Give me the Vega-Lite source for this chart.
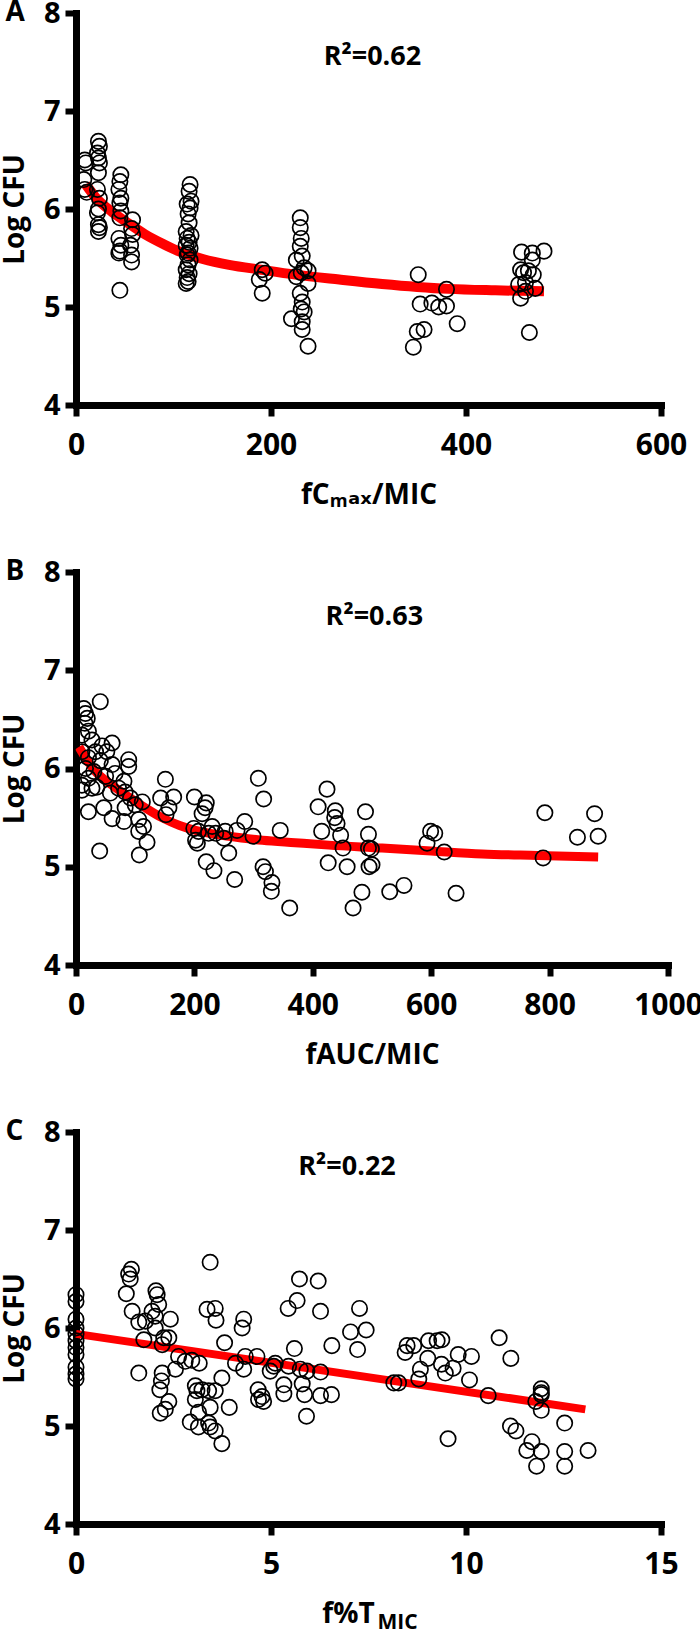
{
  "$schema": "https://vega.github.io/schema/vega-lite/v6.json",
  "background": "white",
  "padding": {"left": 1, "top": -1, "right": 0, "bottom": 0},
  "spacing": 49,
  "config": {
    "view": {"stroke": null},
    "font": "Open Sans",
    "axis": {
      "grid": false,
      "domainColor": "black", "domainWidth": 7, "domainCap": "square",
      "tickColor": "black", "tickWidth": 6, "tickSize": 11,
      "labelFont": "Open Sans", "labelFontSize": 30, "labelFontWeight": "bold", "labelColor": "black",
      "labelFlush": false, "labelOverlap": false, "format": "d",
      "titleFont": "Open Sans, DejaVu Sans", "titleFontSize": 28, "titleFontWeight": "bold", "titleColor": "black"
    },
    "axisX": {"labelPadding": 14, "titleBaseline": "alphabetic", "titleY": 98},
    "axisY": {"labelPadding": 5, "titlePadding": 14, "labelFontSize": 29},
    "title": {"font": "Open Sans", "fontSize": 28, "fontWeight": "bold", "color": "black", "anchor": "start", "frame": "bounds", "offset": -28, "dx": 4}
  },
  "datasets": {
    "a_curve": [
      {"x": 10, "log_cfu": 6.25}, {"x": 20, "log_cfu": 6.12}, {"x": 37, "log_cfu": 5.97}, {"x": 50, "log_cfu": 5.88},
      {"x": 71, "log_cfu": 5.74}, {"x": 90, "log_cfu": 5.64}, {"x": 105, "log_cfu": 5.57}, {"x": 130, "log_cfu": 5.49},
      {"x": 157, "log_cfu": 5.43}, {"x": 190, "log_cfu": 5.38}, {"x": 225, "log_cfu": 5.33}, {"x": 270, "log_cfu": 5.28},
      {"x": 314, "log_cfu": 5.235}, {"x": 350, "log_cfu": 5.205}, {"x": 382, "log_cfu": 5.185}, {"x": 430, "log_cfu": 5.17},
      {"x": 480, "log_cfu": 5.16}
    ],
    "a_pts": [
      {"x": 9, "log_cfu": 6.50}, {"x": 10, "log_cfu": 6.47}, {"x": 8, "log_cfu": 6.30}, {"x": 9, "log_cfu": 6.20}, {"x": 11, "log_cfu": 6.17},
      {"x": 23, "log_cfu": 6.69}, {"x": 24, "log_cfu": 6.64}, {"x": 22, "log_cfu": 6.57}, {"x": 23, "log_cfu": 6.52}, {"x": 24, "log_cfu": 6.47},
      {"x": 23, "log_cfu": 6.37}, {"x": 22, "log_cfu": 6.20}, {"x": 24, "log_cfu": 6.11}, {"x": 23, "log_cfu": 6.00}, {"x": 22, "log_cfu": 5.96},
      {"x": 23, "log_cfu": 5.84}, {"x": 24, "log_cfu": 5.81}, {"x": 23, "log_cfu": 5.77},
      {"x": 46, "log_cfu": 6.35}, {"x": 45, "log_cfu": 6.28}, {"x": 44, "log_cfu": 6.20}, {"x": 46, "log_cfu": 6.11}, {"x": 45, "log_cfu": 6.06},
      {"x": 46, "log_cfu": 5.98}, {"x": 45, "log_cfu": 5.91}, {"x": 44, "log_cfu": 5.70}, {"x": 46, "log_cfu": 5.63}, {"x": 45, "log_cfu": 5.57},
      {"x": 44, "log_cfu": 5.55}, {"x": 45, "log_cfu": 5.17},
      {"x": 58, "log_cfu": 5.89}, {"x": 57, "log_cfu": 5.80}, {"x": 58, "log_cfu": 5.74}, {"x": 56, "log_cfu": 5.63}, {"x": 57, "log_cfu": 5.53}, {"x": 57, "log_cfu": 5.46},
      {"x": 117, "log_cfu": 6.25}, {"x": 116, "log_cfu": 6.18}, {"x": 118, "log_cfu": 6.08}, {"x": 114, "log_cfu": 6.05}, {"x": 117, "log_cfu": 6.01},
      {"x": 115, "log_cfu": 5.95}, {"x": 116, "log_cfu": 5.86}, {"x": 113, "log_cfu": 5.77}, {"x": 118, "log_cfu": 5.73}, {"x": 114, "log_cfu": 5.70},
      {"x": 116, "log_cfu": 5.66}, {"x": 113, "log_cfu": 5.63}, {"x": 117, "log_cfu": 5.60}, {"x": 115, "log_cfu": 5.55}, {"x": 114, "log_cfu": 5.53},
      {"x": 117, "log_cfu": 5.48}, {"x": 115, "log_cfu": 5.43}, {"x": 113, "log_cfu": 5.38}, {"x": 116, "log_cfu": 5.34}, {"x": 114, "log_cfu": 5.30},
      {"x": 115, "log_cfu": 5.26}, {"x": 113, "log_cfu": 5.24},
      {"x": 191, "log_cfu": 5.38}, {"x": 194, "log_cfu": 5.345}, {"x": 188, "log_cfu": 5.28}, {"x": 191, "log_cfu": 5.14},
      {"x": 230, "log_cfu": 5.91}, {"x": 230, "log_cfu": 5.81}, {"x": 231, "log_cfu": 5.70}, {"x": 230, "log_cfu": 5.62}, {"x": 226, "log_cfu": 5.48},
      {"x": 232, "log_cfu": 5.52}, {"x": 234, "log_cfu": 5.40}, {"x": 238, "log_cfu": 5.37}, {"x": 231, "log_cfu": 5.35}, {"x": 226, "log_cfu": 5.31},
      {"x": 238, "log_cfu": 5.24}, {"x": 230, "log_cfu": 5.14}, {"x": 232, "log_cfu": 5.05}, {"x": 234, "log_cfu": 4.95}, {"x": 231, "log_cfu": 4.98},
      {"x": 221, "log_cfu": 4.88}, {"x": 232, "log_cfu": 4.85}, {"x": 232, "log_cfu": 4.77}, {"x": 238, "log_cfu": 4.60},
      {"x": 351, "log_cfu": 5.33}, {"x": 380, "log_cfu": 5.18}, {"x": 353, "log_cfu": 5.03}, {"x": 365, "log_cfu": 5.04}, {"x": 372, "log_cfu": 5.00},
      {"x": 380, "log_cfu": 5.01}, {"x": 391, "log_cfu": 4.83}, {"x": 350, "log_cfu": 4.75}, {"x": 357, "log_cfu": 4.77}, {"x": 346, "log_cfu": 4.59},
      {"x": 457, "log_cfu": 5.56}, {"x": 468, "log_cfu": 5.55}, {"x": 480, "log_cfu": 5.57}, {"x": 468, "log_cfu": 5.48}, {"x": 456, "log_cfu": 5.38},
      {"x": 459, "log_cfu": 5.35}, {"x": 464, "log_cfu": 5.37}, {"x": 469, "log_cfu": 5.33}, {"x": 454, "log_cfu": 5.23}, {"x": 461, "log_cfu": 5.25},
      {"x": 471, "log_cfu": 5.19}, {"x": 461, "log_cfu": 5.16}, {"x": 456, "log_cfu": 5.09}, {"x": 465, "log_cfu": 4.74}
    ],
    "b_curve": [
      {"x": 5, "log_cfu": 6.22}, {"x": 15, "log_cfu": 6.12}, {"x": 33, "log_cfu": 5.97}, {"x": 61, "log_cfu": 5.83},
      {"x": 89, "log_cfu": 5.71}, {"x": 117, "log_cfu": 5.60}, {"x": 145, "log_cfu": 5.50}, {"x": 175, "log_cfu": 5.42},
      {"x": 202, "log_cfu": 5.37}, {"x": 258, "log_cfu": 5.31}, {"x": 315, "log_cfu": 5.27}, {"x": 370, "log_cfu": 5.245},
      {"x": 427, "log_cfu": 5.22}, {"x": 517, "log_cfu": 5.19}, {"x": 600, "log_cfu": 5.16}, {"x": 686, "log_cfu": 5.13},
      {"x": 780, "log_cfu": 5.115}, {"x": 882, "log_cfu": 5.10}
    ],
    "b_pts": [
      {"x": 41, "log_cfu": 6.68}, {"x": 13, "log_cfu": 6.61}, {"x": 16, "log_cfu": 6.56}, {"x": 19, "log_cfu": 6.51}, {"x": 15, "log_cfu": 6.46},
      {"x": 21, "log_cfu": 6.38}, {"x": 10, "log_cfu": 6.34}, {"x": 27, "log_cfu": 6.29}, {"x": 61, "log_cfu": 6.26}, {"x": 44, "log_cfu": 6.23},
      {"x": 33, "log_cfu": 6.17}, {"x": 10, "log_cfu": 6.17}, {"x": 52, "log_cfu": 6.17}, {"x": 21, "log_cfu": 6.11}, {"x": 89, "log_cfu": 6.09},
      {"x": 41, "log_cfu": 6.08}, {"x": 61, "log_cfu": 6.04}, {"x": 89, "log_cfu": 6.02}, {"x": 16, "log_cfu": 6.00}, {"x": 30, "log_cfu": 5.97},
      {"x": 66, "log_cfu": 5.95}, {"x": 50, "log_cfu": 5.92}, {"x": 21, "log_cfu": 5.90}, {"x": 81, "log_cfu": 5.87}, {"x": 10, "log_cfu": 5.83},
      {"x": 35, "log_cfu": 5.81}, {"x": 58, "log_cfu": 5.75}, {"x": 72, "log_cfu": 5.80}, {"x": 83, "log_cfu": 5.76}, {"x": 92, "log_cfu": 5.70},
      {"x": 10, "log_cfu": 5.78}, {"x": 27, "log_cfu": 5.80}, {"x": 112, "log_cfu": 5.66}, {"x": 100, "log_cfu": 5.63}, {"x": 83, "log_cfu": 5.60},
      {"x": 21, "log_cfu": 5.56}, {"x": 47, "log_cfu": 5.60}, {"x": 61, "log_cfu": 5.49}, {"x": 81, "log_cfu": 5.46}, {"x": 106, "log_cfu": 5.48},
      {"x": 114, "log_cfu": 5.41}, {"x": 106, "log_cfu": 5.36}, {"x": 120, "log_cfu": 5.25}, {"x": 107, "log_cfu": 5.12}, {"x": 40, "log_cfu": 5.16},
      {"x": 151, "log_cfu": 5.89}, {"x": 143, "log_cfu": 5.70}, {"x": 165, "log_cfu": 5.71}, {"x": 157, "log_cfu": 5.60}, {"x": 152, "log_cfu": 5.53},
      {"x": 200, "log_cfu": 5.71}, {"x": 220, "log_cfu": 5.65}, {"x": 218, "log_cfu": 5.60}, {"x": 213, "log_cfu": 5.54}, {"x": 199, "log_cfu": 5.39},
      {"x": 207, "log_cfu": 5.36}, {"x": 202, "log_cfu": 5.27}, {"x": 205, "log_cfu": 5.24}, {"x": 230, "log_cfu": 5.41}, {"x": 224, "log_cfu": 5.34},
      {"x": 236, "log_cfu": 5.34}, {"x": 252, "log_cfu": 5.36}, {"x": 250, "log_cfu": 5.29}, {"x": 272, "log_cfu": 5.37}, {"x": 285, "log_cfu": 5.46},
      {"x": 299, "log_cfu": 5.31}, {"x": 258, "log_cfu": 5.14}, {"x": 220, "log_cfu": 5.05}, {"x": 233, "log_cfu": 4.96}, {"x": 268, "log_cfu": 4.87},
      {"x": 308, "log_cfu": 5.90}, {"x": 317, "log_cfu": 5.69}, {"x": 345, "log_cfu": 5.37}, {"x": 316, "log_cfu": 5.00}, {"x": 320, "log_cfu": 4.95},
      {"x": 331, "log_cfu": 4.84}, {"x": 330, "log_cfu": 4.75}, {"x": 361, "log_cfu": 4.58},
      {"x": 424, "log_cfu": 5.79}, {"x": 409, "log_cfu": 5.61}, {"x": 438, "log_cfu": 5.57}, {"x": 437, "log_cfu": 5.50}, {"x": 441, "log_cfu": 5.44},
      {"x": 415, "log_cfu": 5.36}, {"x": 447, "log_cfu": 5.32}, {"x": 451, "log_cfu": 5.19}, {"x": 426, "log_cfu": 5.04}, {"x": 458, "log_cfu": 5.00},
      {"x": 489, "log_cfu": 5.56}, {"x": 494, "log_cfu": 5.33}, {"x": 494, "log_cfu": 5.19}, {"x": 499, "log_cfu": 5.18}, {"x": 495, "log_cfu": 5.00},
      {"x": 500, "log_cfu": 5.02}, {"x": 483, "log_cfu": 4.74}, {"x": 468, "log_cfu": 4.58},
      {"x": 530, "log_cfu": 4.745}, {"x": 554, "log_cfu": 4.81}, {"x": 642, "log_cfu": 4.73}, {"x": 593, "log_cfu": 5.24}, {"x": 599, "log_cfu": 5.36},
      {"x": 606, "log_cfu": 5.34}, {"x": 622, "log_cfu": 5.15}, {"x": 792, "log_cfu": 5.55}, {"x": 789, "log_cfu": 5.09}, {"x": 847, "log_cfu": 5.30},
      {"x": 876, "log_cfu": 5.54}, {"x": 882, "log_cfu": 5.31}
    ],
    "c_line": [
      {"x": 0, "log_cfu": 5.94}, {"x": 13.06, "log_cfu": 5.17}
    ],
    "c_pts": [
      {"x": 0, "log_cfu": 6.34}, {"x": 0, "log_cfu": 6.27}, {"x": 0, "log_cfu": 6.09}, {"x": 0, "log_cfu": 6.00}, {"x": 0, "log_cfu": 5.94},
      {"x": 0, "log_cfu": 5.87}, {"x": 0, "log_cfu": 5.80}, {"x": 0, "log_cfu": 5.73}, {"x": 0, "log_cfu": 5.60}, {"x": 0, "log_cfu": 5.53},
      {"x": 0, "log_cfu": 5.48},
      {"x": 1.42, "log_cfu": 6.60}, {"x": 1.35, "log_cfu": 6.55}, {"x": 1.39, "log_cfu": 6.50}, {"x": 1.29, "log_cfu": 6.35}, {"x": 1.44, "log_cfu": 6.17},
      {"x": 1.61, "log_cfu": 6.06}, {"x": 1.78, "log_cfu": 6.07}, {"x": 1.74, "log_cfu": 5.88}, {"x": 1.61, "log_cfu": 5.54},
      {"x": 2.05, "log_cfu": 6.38}, {"x": 2.08, "log_cfu": 6.34}, {"x": 2.12, "log_cfu": 6.24}, {"x": 1.95, "log_cfu": 6.17}, {"x": 2.03, "log_cfu": 6.12},
      {"x": 2.03, "log_cfu": 6.00}, {"x": 2.42, "log_cfu": 6.09}, {"x": 2.25, "log_cfu": 5.90}, {"x": 2.21, "log_cfu": 5.83}, {"x": 2.38, "log_cfu": 5.90},
      {"x": 2.63, "log_cfu": 5.71}, {"x": 2.80, "log_cfu": 5.66}, {"x": 2.97, "log_cfu": 5.67}, {"x": 3.16, "log_cfu": 5.64}, {"x": 2.55, "log_cfu": 5.58},
      {"x": 2.21, "log_cfu": 5.54}, {"x": 2.19, "log_cfu": 5.46}, {"x": 2.15, "log_cfu": 5.37}, {"x": 2.38, "log_cfu": 5.25}, {"x": 2.29, "log_cfu": 5.17},
      {"x": 2.16, "log_cfu": 5.13},
      {"x": 3.44, "log_cfu": 6.67}, {"x": 3.36, "log_cfu": 6.19}, {"x": 3.57, "log_cfu": 6.20}, {"x": 3.59, "log_cfu": 6.08}, {"x": 3.81, "log_cfu": 5.85},
      {"x": 3.74, "log_cfu": 5.49}, {"x": 3.06, "log_cfu": 5.41}, {"x": 3.10, "log_cfu": 5.36}, {"x": 3.23, "log_cfu": 5.37}, {"x": 3.40, "log_cfu": 5.36},
      {"x": 3.57, "log_cfu": 5.36}, {"x": 3.06, "log_cfu": 5.27}, {"x": 3.44, "log_cfu": 5.19}, {"x": 3.93, "log_cfu": 5.19}, {"x": 3.14, "log_cfu": 5.14},
      {"x": 2.93, "log_cfu": 5.04}, {"x": 3.14, "log_cfu": 4.99}, {"x": 3.40, "log_cfu": 5.03}, {"x": 3.44, "log_cfu": 4.99}, {"x": 3.57, "log_cfu": 4.95},
      {"x": 3.74, "log_cfu": 4.82},
      {"x": 4.09, "log_cfu": 5.64}, {"x": 4.30, "log_cfu": 5.58}, {"x": 4.30, "log_cfu": 6.09}, {"x": 4.26, "log_cfu": 6.00}, {"x": 4.34, "log_cfu": 5.71},
      {"x": 4.64, "log_cfu": 5.71}, {"x": 4.67, "log_cfu": 5.37}, {"x": 4.68, "log_cfu": 5.27}, {"x": 4.81, "log_cfu": 5.25}, {"x": 4.77, "log_cfu": 5.30},
      {"x": 4.98, "log_cfu": 5.56}, {"x": 5.11, "log_cfu": 5.64}, {"x": 5.07, "log_cfu": 5.61}, {"x": 5.33, "log_cfu": 5.42}, {"x": 5.33, "log_cfu": 5.33},
      {"x": 5.45, "log_cfu": 5.61}, {"x": 5.60, "log_cfu": 5.79}, {"x": 5.44, "log_cfu": 6.20}, {"x": 5.67, "log_cfu": 6.28}, {"x": 5.73, "log_cfu": 6.50},
      {"x": 6.21, "log_cfu": 6.48}, {"x": 6.27, "log_cfu": 6.17}, {"x": 5.75, "log_cfu": 5.58}, {"x": 5.92, "log_cfu": 5.56}, {"x": 5.80, "log_cfu": 5.43},
      {"x": 5.86, "log_cfu": 5.32}, {"x": 5.91, "log_cfu": 5.10}, {"x": 6.27, "log_cfu": 5.55}, {"x": 6.27, "log_cfu": 5.31}, {"x": 6.55, "log_cfu": 5.32},
      {"x": 6.56, "log_cfu": 5.82}, {"x": 7.04, "log_cfu": 5.96}, {"x": 7.22, "log_cfu": 5.78}, {"x": 7.27, "log_cfu": 6.20}, {"x": 7.44, "log_cfu": 5.98},
      {"x": 8.15, "log_cfu": 5.44}, {"x": 8.27, "log_cfu": 5.44}, {"x": 8.79, "log_cfu": 5.48}, {"x": 8.83, "log_cfu": 5.58}, {"x": 8.44, "log_cfu": 5.75},
      {"x": 8.49, "log_cfu": 5.82}, {"x": 8.66, "log_cfu": 5.82}, {"x": 9.04, "log_cfu": 5.87}, {"x": 9.26, "log_cfu": 5.87}, {"x": 9.38, "log_cfu": 5.88},
      {"x": 9.02, "log_cfu": 5.69}, {"x": 9.37, "log_cfu": 5.63}, {"x": 9.47, "log_cfu": 5.54}, {"x": 9.67, "log_cfu": 5.59}, {"x": 9.80, "log_cfu": 5.73},
      {"x": 10.14, "log_cfu": 5.71}, {"x": 10.09, "log_cfu": 5.47}, {"x": 10.57, "log_cfu": 5.31}, {"x": 10.85, "log_cfu": 5.90}, {"x": 11.15, "log_cfu": 5.69},
      {"x": 9.54, "log_cfu": 4.87}, {"x": 11.14, "log_cfu": 5.00}, {"x": 11.28, "log_cfu": 4.95}, {"x": 11.69, "log_cfu": 4.84}, {"x": 11.56, "log_cfu": 4.75},
      {"x": 11.93, "log_cfu": 4.74}, {"x": 11.81, "log_cfu": 4.59}, {"x": 11.93, "log_cfu": 5.38}, {"x": 11.93, "log_cfu": 5.34}, {"x": 11.93, "log_cfu": 5.32},
      {"x": 11.79, "log_cfu": 5.25}, {"x": 11.93, "log_cfu": 5.16}, {"x": 12.53, "log_cfu": 5.03}, {"x": 12.53, "log_cfu": 4.74}, {"x": 12.53, "log_cfu": 4.59},
      {"x": 13.13, "log_cfu": 4.75}
    ]
  },
  "vconcat": [
    {
      "width": 585, "height": 392,
      "title": {"text": "A"},
      "layer": [
        {
          "data": {"name": "a_curve"},
          "mark": {"type": "line", "color": "#ff0000", "strokeWidth": 10, "interpolate": "monotone"},
          "encoding": {
            "x": {"field": "x", "type": "quantitative", "scale": {"domain": [0, 600], "nice": false}, "axis": {"title": "fCₘₐₓ/MIC", "values": [0, 200, 400, 600]}},
            "y": {"field": "log_cfu", "type": "quantitative", "scale": {"domain": [4, 8], "nice": false, "zero": false}, "axis": {"title": "Log CFU", "values": [4, 5, 6, 7, 8]}}
          }
        },
        {
          "data": {"name": "a_pts"},
          "mark": {"type": "point", "shape": "circle", "filled": false, "size": 235, "strokeWidth": 1.7, "color": "black", "opacity": 1},
          "encoding": {
            "x": {"field": "x", "type": "quantitative"},
            "y": {"field": "log_cfu", "type": "quantitative"}
          }
        },
        {
          "data": {"values": [{}]},
          "mark": {"type": "text", "font": "Open Sans, DejaVu Sans", "fontWeight": "bold", "fontSize": 27, "color": "black", "align": "center", "baseline": "middle"},
          "encoding": {
            "x": {"datum": 304, "type": "quantitative"},
            "y": {"datum": 7.55, "type": "quantitative"},
            "text": {"value": "R²=0.62"}
          }
        }
      ]
    },
    {
      "width": 592, "height": 393,
      "title": {"text": "B"},
      "layer": [
        {
          "data": {"name": "b_curve"},
          "mark": {"type": "line", "color": "#ff0000", "strokeWidth": 9, "interpolate": "monotone"},
          "encoding": {
            "x": {"field": "x", "type": "quantitative", "scale": {"domain": [0, 1000], "nice": false}, "axis": {"title": "fAUC/MIC", "values": [0, 200, 400, 600, 800, 1000]}},
            "y": {"field": "log_cfu", "type": "quantitative", "scale": {"domain": [4, 8], "nice": false, "zero": false}, "axis": {"title": "Log CFU", "values": [4, 5, 6, 7, 8]}}
          }
        },
        {
          "data": {"name": "b_pts"},
          "mark": {"type": "point", "shape": "circle", "filled": false, "size": 235, "strokeWidth": 1.7, "color": "black", "opacity": 1},
          "encoding": {
            "x": {"field": "x", "type": "quantitative"},
            "y": {"field": "log_cfu", "type": "quantitative"}
          }
        },
        {
          "data": {"values": [{}]},
          "mark": {"type": "text", "font": "Open Sans, DejaVu Sans", "fontWeight": "bold", "fontSize": 27, "color": "black", "align": "center", "baseline": "middle"},
          "encoding": {
            "x": {"datum": 504, "type": "quantitative"},
            "y": {"datum": 7.54, "type": "quantitative"},
            "text": {"value": "R²=0.63"}
          }
        }
      ]
    },
    {
      "width": 585, "height": 392,
      "title": {"text": "C"},
      "resolve": {"axis": {"x": "independent"}},
      "layer": [
        {
          "data": {"name": "c_line"},
          "mark": {"type": "line", "color": "#ff0000", "strokeWidth": 8},
          "encoding": {
            "x": {"field": "x", "type": "quantitative", "scale": {"domain": [0, 15], "nice": false}, "axis": {"orient": "bottom", "title": "f%T", "values": [0, 5, 10, 15], "titleX": 272}},
            "y": {"field": "log_cfu", "type": "quantitative", "scale": {"domain": [4, 8], "nice": false, "zero": false}, "axis": {"title": "Log CFU", "values": [4, 5, 6, 7, 8]}}
          }
        },
        {
          "data": {"name": "c_pts"},
          "mark": {"type": "point", "shape": "circle", "filled": false, "size": 235, "strokeWidth": 1.7, "color": "black", "opacity": 1},
          "encoding": {
            "x": {"field": "x", "type": "quantitative", "axis": {"orient": "bottom", "title": "MIC", "labels": false, "ticks": false, "domain": false, "titleFontSize": 21, "titleX": 321, "titleY": 104}},
            "y": {"field": "log_cfu", "type": "quantitative"}
          }
        },
        {
          "data": {"values": [{}]},
          "mark": {"type": "text", "font": "Open Sans, DejaVu Sans", "fontWeight": "bold", "fontSize": 27, "color": "black", "align": "center", "baseline": "middle"},
          "encoding": {
            "x": {"datum": 6.95, "type": "quantitative", "axis": null},
            "y": {"datum": 7.64, "type": "quantitative"},
            "text": {"value": "R²=0.22"}
          }
        }
      ]
    }
  ]
}
